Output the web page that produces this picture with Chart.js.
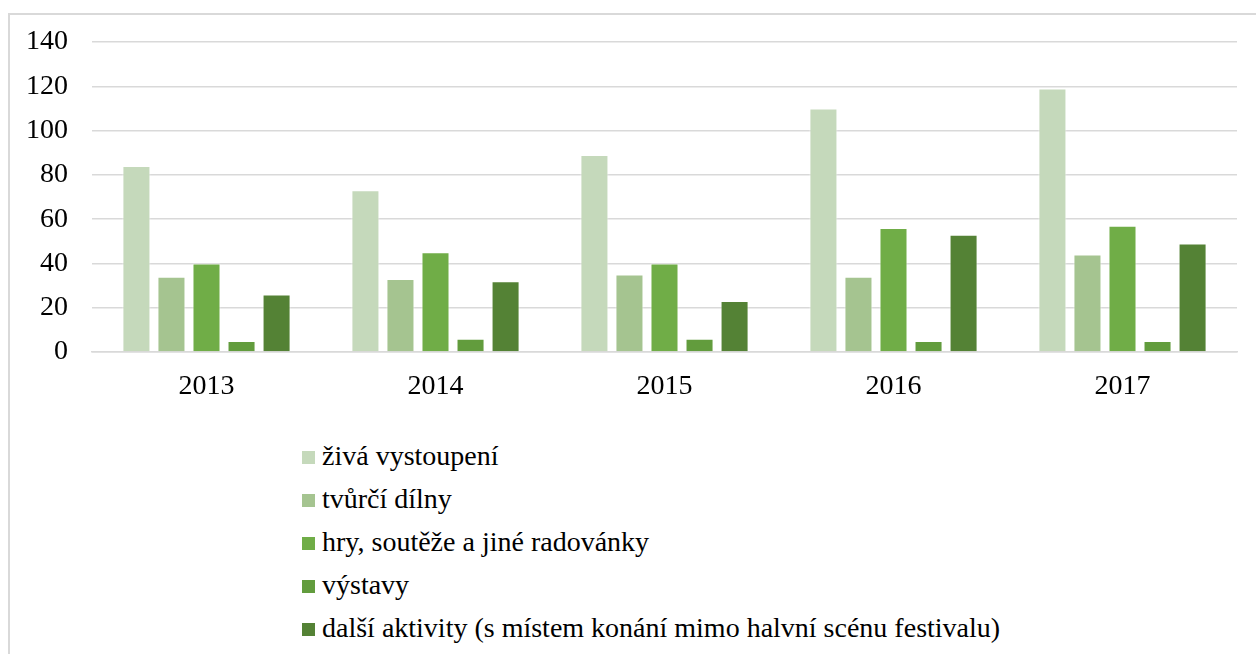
<!DOCTYPE html>
<html>
<head>
<meta charset="utf-8">
<script src="https://cdn.jsdelivr.net/npm/chart.js@4"></script>
<style>
  body { margin: 0; background: #fff; }
  #frame {
    position: absolute; left: 8px; top: 13px; width: 1248px; height: 641px;
    border-left: 2px solid #d9d9d9; border-top: 2px solid #d9d9d9;
  }
  #box { position: absolute; left: 0; top: 0; width: 1246px; height: 400px; }
  #legend {
    position: absolute; left: 292px; top: 419px;
    font-family: "Liberation Serif", "Times New Roman", serif; font-size: 28px; color: #000;
  }
  .item { height: 43.2px; display: flex; align-items: center; white-space: nowrap; }
  .sw { width: 13px; height: 13px; margin-right: 7px; margin-top: 3px; }
</style>
</head>
<body>
<div id="frame">
  <div id="box"><canvas id="chart"></canvas></div>
  <div id="legend"></div>
</div>
<script>
// data
let years = ["2013", "2014", "2015", "2016", "2017"];
let seriesNames = [
  "živá vystoupení",
  "tvůrčí dílny",
  "hry, soutěže a jiné radovánky",
  "výstavy",
  "další aktivity (s místem konání mimo halvní scénu festivalu)"
];
let zivaVystoupeni = [84, 73, 89, 110, 119];
let tvurciDilny = [34, 33, 35, 34, 44];
let hrySouteze = [40, 45, 40, 56, 57];
let vystavy = [5, 6, 6, 5, 5];
let dalsiAktivity = [26, 32, 23, 53, 49];
let yTicks = [0, 20, 40, 60, 80, 100, 120, 140];

let colors = ["#c5d9bb", "#a5c490", "#70ad47", "#629c3d", "#548235"];
let allValues = [zivaVystoupeni, tvurciDilny, hrySouteze, vystavy, dalsiAktivity];

const serif = "'Liberation Serif', 'Times New Roman', serif";

let theChart = new Chart(document.getElementById("chart"), {
  type: 'bar',
  data: {
    labels: years,
    datasets: seriesNames.map((name, i) => ({
      label: name,
      data: allValues[i],
      backgroundColor: colors[i],
      borderColor: "rgba(255,255,255,0.6)",
      borderWidth: 1,
      barPercentage: 0.8,
      categoryPercentage: 0.765
    }))
  },
  options: {
    responsive: true,
    maintainAspectRatio: false,
    animation: false,
    layout: { padding: { top: 27, right: 19, bottom: 0, left: 0 } },
    plugins: {
      legend: { display: false },
      tooltip: { enabled: false }
    },
    scales: {
      x: {
        grid: { display: false, drawTicks: false },
        border: { display: true, color: "#d9d9d9", width: 1.5 },
        ticks: { color: "#000", font: { family: serif, size: 28 }, padding: 18 },
        afterFit: s => { s.height = 63; s.paddingLeft = 0; s.paddingRight = 0; }
      },
      y: {
        min: 0, max: 140,
        afterBuildTicks: s => { s.ticks = yTicks.map(v => ({ value: v })); },
        grid: { color: "#d9d9d9", lineWidth: 1.5, drawTicks: false },
        border: { display: false },
        ticks: { color: "#000", font: { family: serif, size: 28 }, padding: 24 },
        afterFit: s => { s.width = 82; s.paddingTop = 0; s.paddingBottom = 0; }
      }
    }
  }
});

// html legend, vertical like the original
let legendBox = document.getElementById("legend");
theChart.data.datasets.forEach(ds => {
  let row = document.createElement("div");
  row.className = "item";
  let sw = document.createElement("span");
  sw.className = "sw";
  sw.style.background = ds.backgroundColor;
  let txt = document.createElement("span");
  txt.textContent = ds.label;
  row.appendChild(sw);
  row.appendChild(txt);
  legendBox.appendChild(row);
});
</script>
</body>
</html>
